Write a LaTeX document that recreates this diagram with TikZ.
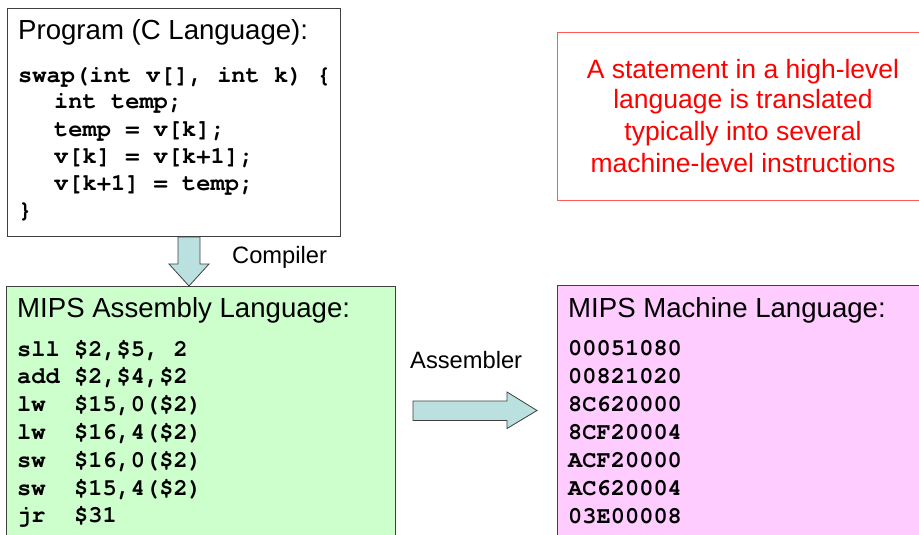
\documentclass[tikz,border=0pt]{standalone}
\usepackage{fontspec}
\setmainfont{Liberation Sans}
\setmonofont{TeX Gyre Cursor}
\definecolor{asmgreen}{RGB}{204,255,204}
\definecolor{machpink}{RGB}{255,204,255}
\definecolor{arrowteal}{RGB}{186,224,224}
\definecolor{edgegray}{RGB}{64,64,64}
\definecolor{noteedge}{RGB}{255,90,90}
\tikzset{
  panel/.style={draw=edgegray, line width=1pt, inner sep=0pt, anchor=north west},
  heading/.style={anchor=base west, inner sep=0pt, font=\fontsize{27.6}{30}\selectfont},
  codeline/.style={anchor=base west, inner sep=0pt, font=\fontsize{23.7}{27}\selectfont\ttfamily\bfseries},
  steplabel/.style={anchor=base west, inner sep=0pt, font=\fontsize{23.7}{27}\selectfont},
  noteline/.style={anchor=base, inner sep=0pt, text=red, font=\fontsize{26.5}{31}\selectfont},
  blockarrow/.style={draw=edgegray, line width=0.8pt, fill=arrowteal, line join=miter},
}
\begin{document}
\begin{tikzpicture}[x=1pt,y=-1pt]
\clip (0,0) rectangle (919,535);
\fill[white] (0,0) rectangle (919,535);

% panels
\node[panel, minimum width=333pt, minimum height=228pt] (prog) at (7,8) {};
\node[panel, fill=asmgreen, minimum width=389pt, minimum height=262pt] (asm) at (6,286) {};
\node[panel, fill=machpink, minimum width=380pt, minimum height=262pt] (mach) at (557,285) {};
\node[panel, draw=noteedge, minimum width=380pt, minimum height=168pt] (note) at (557,32) {};

% C program
\node[heading] (progtitle) at (18,40) {Program (C Language):};
\node[codeline] (c1) at (18,82) {swap(int v[], int k) \{};
\node[codeline] (c2) at (54,109) {int temp;};
\node[codeline] (c3) at (54,136) {temp = v[k];};
\node[codeline] (c4) at (54,163) {v[k] = v[k+1];};
\node[codeline] (c5) at (54,190) {v[k+1] = temp;};
\node[codeline] (c6) at (18,217) {\}};

% assembly
\node[heading] (asmtitle) at (17,317) {MIPS Assembly Language:};
\foreach \t [count=\i from 0] in {{sll \$2,\$5, 2},{add \$2,\$4,\$2},{lw~~\$15,0(\$2)},
    {lw~~\$16,4(\$2)},{sw~~\$16,0(\$2)},{sw~~\$15,4(\$2)},{jr~~\$31}}
  \node[codeline] (a\i) at (17,356+27.8*\i) {\t};

% machine code
\node[heading] (machtitle) at (568,317) {MIPS Machine Language:};
\foreach \t [count=\i from 0] in {00051080,00821020,8C620000,8CF20004,ACF20000,AC620004,03E00008}
  \node[codeline] (m\i) at (568,355+28*\i) {\t};

% remark
\node[noteline] (n1) at (743,78) {A statement in a high-level};
\node[noteline] (n2) at (743,109) {language is translated};
\node[noteline] (n3) at (743,140) {typically into several};
\node[noteline] (n4) at (743,172) {machine-level instructions};

% compiler step
\coordinate (ctop) at (prog.south -| 189,0);
\coordinate (ctip) at (asm.north -| 189,0);
\draw[blockarrow] (ctop) ++(-11,0) -- ++(0,27) -- ++(-9,0) -- (ctip)
  -- ++(20,-22) -- ++(-9,0) -- ++(0,-27) -- cycle;
\node[steplabel] (complabel) at (232,263) {Compiler};

% assembler step
\coordinate (atail) at (413,410.5);
\coordinate (atip) at (537,410.5);
\draw[blockarrow] (atail) ++(0,-9.5) -- ++(94,0) -- ++(0,-9) -- (atip)
  -- ++(-30,18) -- ++(0,-8) -- ++(-94,0) -- cycle;
\node[steplabel] (asmlabel) at (410,368) {Assembler};
\end{tikzpicture}
\end{document}
